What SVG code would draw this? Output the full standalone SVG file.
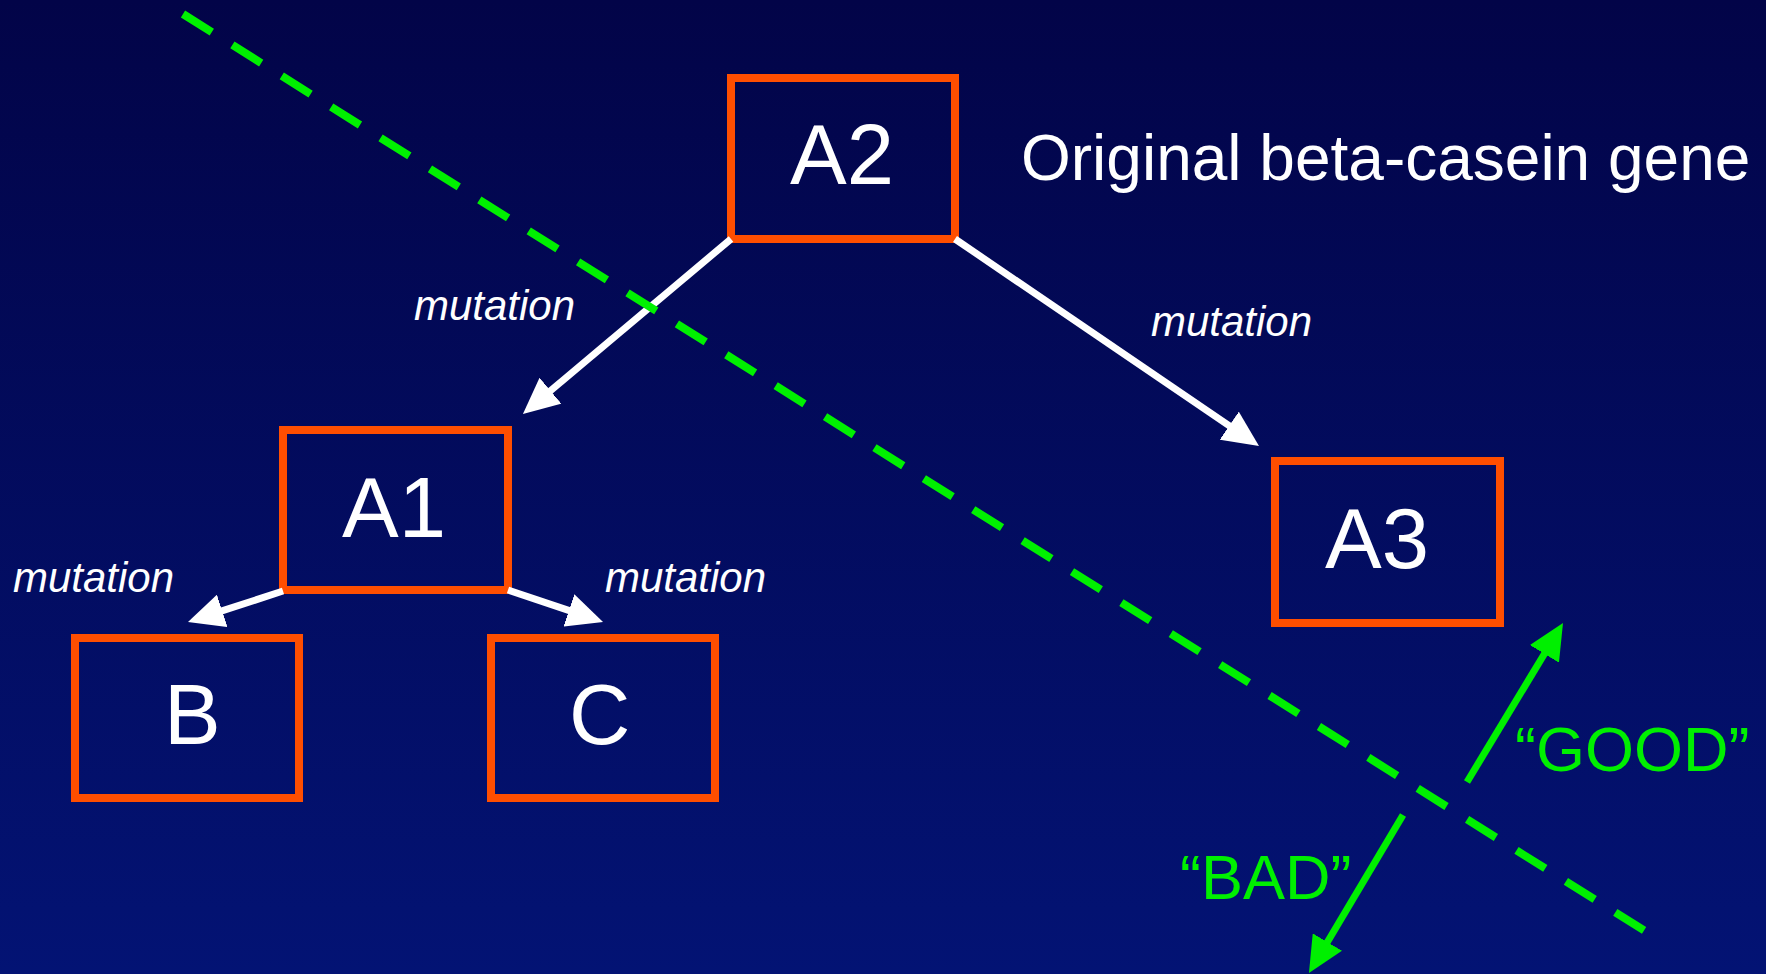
<svg xmlns="http://www.w3.org/2000/svg" width="1766" height="974" viewBox="0 0 1766 974">
  <defs>
    <linearGradient id="bg" x1="0" y1="0" x2="0" y2="1">
      <stop offset="0" stop-color="#020448"/>
      <stop offset="1" stop-color="#031374"/>
    </linearGradient>
    <marker id="arrW" viewBox="0 0 36 34" markerUnits="userSpaceOnUse" markerWidth="36" markerHeight="34" refX="6" refY="17" orient="auto">
      <path d="M0,0 L36,17 L0,34 z" fill="#ffffff"/>
    </marker>
    <marker id="arrG" viewBox="0 0 36 34" markerUnits="userSpaceOnUse" markerWidth="36" markerHeight="34" refX="6" refY="17" orient="auto">
      <path d="M0,0 L36,17 L0,34 z" fill="#00f000"/>
    </marker>
    <style>
      .box { fill: none; stroke: #ff4e00; stroke-width: 8; }
      .lbl { font-family: "Liberation Sans", Arial, sans-serif; font-size: 85px; fill: #ffffff; }
      .mut { font-family: "Liberation Sans", Arial, sans-serif; font-size: 42px; font-style: italic; fill: #ffffff; }
      .title { font-family: "Liberation Sans", Arial, sans-serif; font-size: 64px; fill: #ffffff; }
      .green { font-family: "Liberation Sans", Arial, sans-serif; font-size: 63px; fill: #00f000; }
      .wline { stroke: #ffffff; stroke-width: 7; fill: none; marker-end: url(#arrW); }
      .gline { stroke: #00f000; stroke-width: 7; fill: none; marker-end: url(#arrG); }
      .dash { stroke: #00f000; stroke-width: 8; fill: none; stroke-dasharray: 34 24.3; }
    </style>
  </defs>
  <rect x="0" y="0" width="1766" height="974" fill="url(#bg)"/>

  <g id="node-A2">
    <rect class="box" x="731" y="78" width="224" height="161"/>
    <text class="lbl" x="790" y="184">A2</text>
  </g>
  <g id="node-A1">
    <rect class="box" x="283" y="430" width="225" height="160"/>
    <text class="lbl" x="342" y="537">A1</text>
  </g>
  <g id="node-A3">
    <rect class="box" x="1275" y="461" width="225" height="162"/>
    <text class="lbl" x="1325" y="568">A3</text>
  </g>
  <g id="node-B">
    <rect class="box" x="75" y="638" width="224" height="160"/>
    <text class="lbl" x="164" y="744">B</text>
  </g>
  <g id="node-C">
    <rect class="box" x="491" y="638" width="224" height="160"/>
    <text class="lbl" x="569" y="744">C</text>
  </g>

  <g id="labels">
    <text class="title" x="1021" y="180">Original beta-casein gene</text>
    <text class="mut" x="414" y="320">mutation</text>
    <text class="mut" x="1151" y="336">mutation</text>
    <text class="mut" x="13" y="592">mutation</text>
    <text class="mut" x="605" y="592">mutation</text>
    <text class="green" x="1515" y="771">“GOOD”</text>
    <text class="green" x="1180" y="899">“BAD”</text>
  </g>

  <g id="connectors">
    <line class="wline" x1="731" y1="239" x2="545.9" y2="394.6"/>
    <line class="wline" x1="955" y1="239" x2="1234.2" y2="429.1"/>
    <line class="wline" x1="283" y1="591" x2="216.5" y2="612.7"/>
    <line class="wline" x1="508" y1="590" x2="574.6" y2="612.4"/>
    <line class="dash" x1="183" y1="14" x2="1645" y2="931"/>
    <line class="gline" x1="1467" y1="782" x2="1547.5" y2="648.7"/>
    <line class="gline" x1="1403" y1="815" x2="1324.3" y2="947.2"/>
  </g>
</svg>
